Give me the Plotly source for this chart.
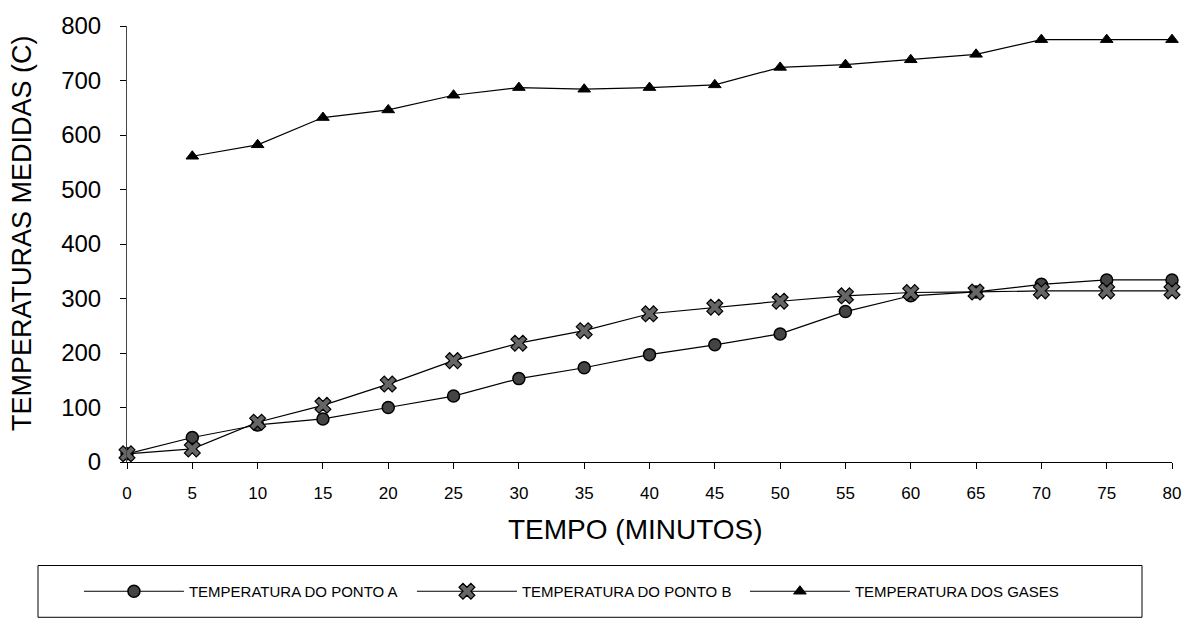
import plotly.graph_objects as go

tempo = [0, 5, 10, 15, 20, 25, 30, 35, 40, 45, 50, 55, 60, 65, 70, 75, 80]
ponto_a = [15, 45, 68, 79, 100, 121, 153, 173, 197, 215, 235, 276, 305, 312, 326, 334, 334]
ponto_b = [15, 24, 73, 104, 143, 186, 218, 241, 272, 284, 295, 305, 311, 312, 314, 314, 314]
tempo_gases = [5, 10, 15, 20, 25, 30, 35, 40, 45, 50, 55, 60, 65, 70, 75, 80]
gases = [561, 582, 632, 646, 673, 687, 684, 687, 692, 724, 729, 738, 748, 775, 775, 775]

x_ticks = list(range(0, 81, 5))
y_ticks = list(range(0, 801, 100))

FONT = "Liberation Sans, Arial, sans-serif"

fig = go.Figure()
fig.add_trace(go.Scatter(
    x=tempo, y=ponto_a, mode="lines+markers", name="TEMPERATURA DO PONTO A",
    line=dict(color="black", width=1.2),
    marker=dict(symbol="circle", size=12, color="#444444", line=dict(color="black", width=1.5)),
    cliponaxis=False))
fig.add_trace(go.Scatter(
    x=tempo, y=ponto_b, mode="lines+markers", name="TEMPERATURA DO PONTO B",
    line=dict(color="black", width=1.2),
    marker=dict(symbol="x", size=14, color="#666666", line=dict(color="black", width=1.2)),
    cliponaxis=False))
fig.add_trace(go.Scatter(
    x=tempo_gases, y=gases, mode="lines+markers", name="TEMPERATURA DOS GASES",
    line=dict(color="black", width=1.2),
    marker=dict(symbol="triangle-up", size=11, color="black", line=dict(color="black", width=1)),
    cliponaxis=False))

fig.update_layout(
    width=1202, height=624,
    margin=dict(l=127, r=30, t=24, b=162),
    paper_bgcolor="white", plot_bgcolor="white",
    font=dict(family=FONT, color="black"),
    showlegend=True,
    legend=dict(
        orientation="h", x=-0.046, xanchor="left", y=-0.297, yanchor="middle",
        font=dict(size=15, family=FONT), itemwidth=100, entrywidth=218, entrywidthmode="pixels",
        bgcolor="rgba(0,0,0,0)", borderwidth=0),
    xaxis=dict(
        range=[0, 80], tickvals=x_ticks, ticktext=[str(v) for v in x_ticks],
        showgrid=False, zeroline=False, showline=True, linecolor="black", linewidth=1,
        ticks="outside", ticklen=6, tickcolor="black", tickwidth=1,
        tickfont=dict(size=17, family=FONT), ticklabelstandoff=10),
    yaxis=dict(
        range=[0, 800], tickvals=y_ticks, ticktext=[str(v) for v in y_ticks],
        showgrid=False, zeroline=False, showline=True, linecolor="#444444", linewidth=1,
        ticks="outside", ticklen=6, tickcolor="black", tickwidth=1,
        tickfont=dict(size=24, family=FONT), ticklabelstandoff=14),
    xaxis2=dict(
        overlaying="x", anchor="y", range=[0, 80], tickvals=x_ticks, showticklabels=False,
        showgrid=False, zeroline=False, showline=False, ticks="inside", ticklen=6,
        tickcolor="black", tickwidth=1, side="bottom"),
    yaxis2=dict(
        overlaying="y", anchor="x", range=[0, 800], tickvals=y_ticks, showticklabels=False,
        showgrid=False, zeroline=False, showline=False, ticks="inside", ticklen=6,
        tickcolor="black", tickwidth=1, side="left"),
    annotations=[
        dict(text="TEMPO (MINUTOS)", xref="paper", yref="paper",
             x=(635 - 127) / 1045, y=(462 - 530) / 438, xanchor="center", yanchor="middle",
             showarrow=False, font=dict(size=28, family=FONT)),
        dict(text="TEMPERATURAS MEDIDAS (C)", xref="paper", yref="paper",
             x=(22 - 127) / 1045, y=(462 - 232) / 438, xanchor="center", yanchor="middle",
             textangle=-90, showarrow=False, font=dict(size=27, family=FONT)),
    ],
    shapes=[dict(type="rect", xref="paper", yref="paper",
                 x0=(38 - 127) / 1045, x1=(1142 - 127) / 1045,
                 y0=(462 - 618) / 438, y1=(462 - 566) / 438,
                 line=dict(color="black", width=1), fillcolor="rgba(0,0,0,0)")],
)

fig.write_html("out.html")
